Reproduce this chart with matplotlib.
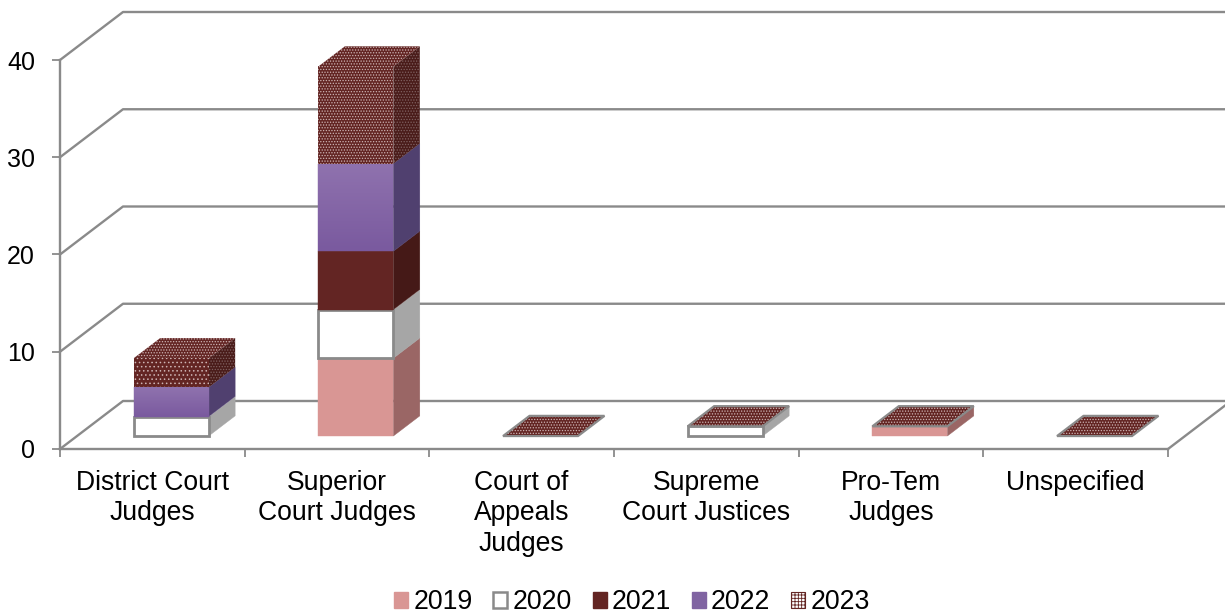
import numpy as np
from matplotlib import pyplot as plt
from matplotlib.colors import LinearSegmentedColormap
from matplotlib.patches import Patch, Polygon

categories = [
    "District Court\nJudges",
    "Superior\nCourt Judges",
    "Court of\nAppeals\nJudges",
    "Supreme\nCourt Justices",
    "Pro-Tem\nJudges",
    "Unspecified",
]
years = ["2019", "2020", "2021", "2022", "2023"]
values_2019 = [0, 8, 0, 0, 1, 0]
values_2020 = [2, 5, 0, 1, 0, 0]
values_2021 = [0, 6, 0, 0, 0, 0]
values_2022 = [3, 9, 0, 0, 0, 0]
values_2023 = [3, 10, 0, 0, 0, 0]
y_ticks = [0, 10, 20, 30, 40]

GRAY = "#8a8a8a"
MAROON = "#632523"
DOTS = "#cdb4b4"
SIDE_DOTS = "#806262"
# front colour, side colour per series
front_colors = ["#d99694", "#ffffff", MAROON, "#8064a2", MAROON]
side_colors = ["#9a6665", "#a6a6a6", "#451917", "#50406f", "#4a1c1a"]

# how far the back wall sits from the front of the floor, in data units
DEPTH_X = 63 / 184.67
DEPTH_Y = 48 / 9.725
BAR_WIDTH = 0.406
BAR_NEAR = 0.27
BAR_FAR = 0.69

plt.rcParams["font.family"] = ["Liberation Sans", "DejaVu Sans"]
plt.rcParams["hatch.linewidth"] = 0.6

purple_fade = LinearSegmentedColormap.from_list("purple_fade", ["#7a5a9f", "#8f72ae"])


def project(x, y, depth=0.0):
    return x + depth * DEPTH_X, y + depth * DEPTH_Y


def add_face(ax, points, color, hatch=None, dots=DOTS, zorder=3):
    if hatch:
        face = Polygon(points, closed=True, facecolor=color, edgecolor=dots,
                       hatch=hatch, linewidth=0, clip_on=False, zorder=zorder)
    else:
        face = Polygon(points, closed=True, facecolor=color, edgecolor=color,
                       linewidth=0.3, clip_on=False, zorder=zorder)
    ax.add_patch(face)
    return face


def draw_segment(ax, left, bottom, top, index, front_hatch):
    right = left + BAR_WIDTH
    year = years[index]
    hatch = "......" if year == "2023" else None
    near_a = project(right, bottom, BAR_NEAR)
    near_b = project(right, top, BAR_NEAR)
    far_a = project(right, bottom, BAR_FAR)
    far_b = project(right, top, BAR_FAR)
    # side face
    if top > bottom:
        add_face(ax, [near_a, far_a, far_b, near_b], side_colors[index], hatch, SIDE_DOTS)
    # top face, only the last series and the outlined one show theirs
    if year == "2023" or year == "2020":
        top_face = [project(left, top, BAR_NEAR), near_b, far_b,
                    project(left, top, BAR_FAR)]
        add_face(ax, top_face, front_colors[index], hatch)
    # front face
    if top > bottom:
        front = [project(left, bottom, BAR_NEAR), near_a, near_b,
                 project(left, top, BAR_NEAR)]
        face = add_face(ax, front, front_colors[index], front_hatch if year == "2023" else None)
        if year == "2020":
            ax.add_patch(Polygon(front, closed=True, fill=False, edgecolor=GRAY,
                                 linewidth=2.0, clip_on=False, zorder=3))
        if year == "2022":
            x0, y0 = front[0]
            x1, y1 = front[2]
            image = ax.imshow(np.linspace(1, 0, 32).reshape(-1, 1), cmap=purple_fade,
                              extent=(x0, x1, y0, y1), aspect="auto", zorder=3)
            image.set_clip_path(face)


fig = plt.figure(figsize=(12.25, 6.14), dpi=100)
ax = fig.add_axes([60 / 1225, (614 - 449) / 614, 1108 / 1225, 389 / 614])
ax.patch.set_visible(False)

# walls and floor
for tick in y_ticks:
    xs, ys = zip(project(0, tick), project(0, tick, 1), project(len(categories), tick, 1))
    ax.plot(xs, ys, color=GRAY, lw=1.7, clip_on=False, zorder=1)
xs, ys = zip(project(len(categories), 0), project(len(categories), 0, 1))
ax.plot(xs, ys, color=GRAY, lw=1.7, clip_on=False, zorder=1)

for side in ["top", "right"]:
    ax.spines[side].set_visible(False)
for side in ["left", "bottom"]:
    ax.spines[side].set_color(GRAY)
    ax.spines[side].set_linewidth(1.7)

ax.set_yticks(y_ticks)
ax.set_xticks(np.arange(len(categories) + 1))
ax.set_xticklabels([])
ax.set_xticks(np.arange(len(categories)) + 0.5, categories, minor=True, linespacing=1.23)
ax.tick_params(axis="y", which="major", color=GRAY, width=1.3, length=6, labelsize=18, pad=12)
ax.tick_params(axis="x", which="major", color=GRAY, width=1.3, length=6)
ax.tick_params(axis="x", which="minor", length=0, labelsize=19.1, pad=15)

# stacked bars
series = np.array([values_2019, values_2020, values_2021, values_2022, values_2023])
for cat in range(len(categories)):
    left = cat + 0.51 - BAR_WIDTH / 2
    # the short district bar has a coarser weave than the tall one
    front_hatch = "...." if cat == 0 else "......"
    bottom = 0
    outline_top = None
    for index in range(len(years)):
        top = bottom + series[index][cat]
        draw_segment(ax, left, bottom, top, index, front_hatch)
        if years[index] == "2020" and series[index + 1:, cat].sum() == 0:
            outline_top = top
        bottom = top
    if outline_top is not None:
        right = left + BAR_WIDTH
        rim = [project(left, outline_top, BAR_NEAR), project(right, outline_top, BAR_NEAR),
               project(right, outline_top, BAR_FAR), project(left, outline_top, BAR_FAR)]
        ax.add_patch(Polygon(rim, closed=True, fill=False, edgecolor=GRAY, linewidth=1.6,
                             clip_on=False, zorder=4))

ax.set_xlim(0, len(categories))
ax.set_ylim(0, 40)

handles = [
    Patch(facecolor=front_colors[0], edgecolor=front_colors[0]),
    Patch(facecolor="white", edgecolor=GRAY, linewidth=1.8),
    Patch(facecolor=front_colors[2], edgecolor=front_colors[2]),
    Patch(facecolor=front_colors[3], edgecolor=front_colors[3]),
    Patch(facecolor="white", edgecolor=MAROON, hatch="+++++", linewidth=0.8),
]
fig.legend(handles, years, loc="center", bbox_to_anchor=(632 / 1225, 1 - 602 / 614), ncol=5,
           frameon=False, fontsize=19.2, handlelength=0.52, handleheight=0.55,
           handletextpad=0.2, columnspacing=0.78, borderpad=0)

fig.savefig("out.png", dpi=100)
